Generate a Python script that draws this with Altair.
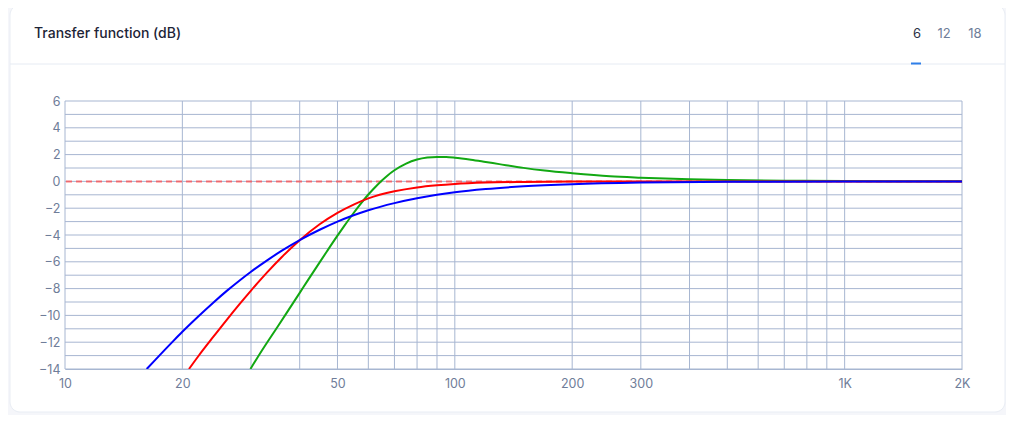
import altair as alt
import pandas as pd

# ---- data ----
blue_f = [16.2, 17, 18, 19, 20, 22, 24, 26, 28, 30, 33, 36, 40, 45, 50, 55, 60, 70, 80, 90, 100, 120, 150, 200, 300, 500, 1000, 2000]
blue_db = [-14.0, -13.36, -12.59, -11.88, -11.22, -10.06, -9.05, -8.17, -7.41, -6.74, -5.89, -5.17, -4.38, -3.61, -3.0, -2.53, -2.15, -1.62, -1.26, -1.0, -0.81, -0.57, -0.37, -0.21, -0.09, -0.035, -0.01, 0.0]

red_f = [20.8, 22, 24, 26, 28, 30, 33, 36, 40, 45, 50, 55, 60, 70, 80, 90, 100, 120, 150, 200, 300, 500, 1000, 2000]
red_db = [-14.0, -13.03, -11.61, -10.33, -9.18, -8.15, -6.79, -5.64, -4.39, -3.2, -2.35, -1.73, -1.27, -0.74, -0.45, -0.29, -0.19, -0.09, -0.04, -0.012, 0.0, 0.0, 0.0, 0.0]

green_f = [29.9, 32, 35, 37, 40, 42, 45, 47, 50, 52, 55, 57, 60, 62, 65, 67, 70, 75, 80, 85, 90, 95, 100, 110, 120, 130, 150, 170, 200, 250, 300, 400, 500, 700, 1000, 2000]
green_db = [-14.0, -12.62, -10.9, -9.83, -8.32, -7.37, -6.04, -5.21, -4.05, -3.34, -2.36, -1.77, -0.98, -0.53, 0.07, 0.41, 0.83, 1.33, 1.63, 1.78, 1.83, 1.82, 1.77, 1.62, 1.45, 1.29, 1.01, 0.81, 0.61, 0.385, 0.28, 0.156, 0.1, 0.05, 0.025, 0.006]

x_grid = [10, 20, 30, 40, 50, 60, 70, 80, 90, 100, 200, 300, 400, 500, 600, 700, 800, 900, 1000, 2000]
x_labels = [10, 20, 50, 100, 200, 300, 1000, 2000]
y_grid = list(range(-14, 7))
y_labels = list(range(-14, 7, 2))
tabs = ["6", "12", "18"]

GRID = "#a7b6d1"
LABEL = "#6f7d99"
FONT = "Inter"

xs = alt.Scale(type="log", domain=[10, 2000], nice=False)
ys = alt.Scale(domain=[-14, 6], nice=False)

label_expr = "datum.value == 1000 ? '1K' : datum.value == 2000 ? '2K' : '' + datum.value"

x_axis = alt.Axis(values=x_labels, labelExpr=label_expr, grid=False, ticks=False, title=None,
                  domain=True, domainColor=GRID, labelColor=LABEL, labelFont=FONT,
                  labelFontSize=12.5, labelPadding=8, labelFlush=False,
                  labelOverlap=False, zindex=1)
y_axis = alt.Axis(values=y_labels, grid=False, ticks=False, domain=False, title=None,
                  labelColor=LABEL, labelFont=FONT, labelFontSize=12.5,
                  labelPadding=5, labelOverlap=False, labelFlush=False, zindex=1)

curves = pd.concat([
    pd.DataFrame({"f": green_f, "db": green_db, "s": "a"}),
    pd.DataFrame({"f": red_f, "db": red_db, "s": "b"}),
    pd.DataFrame({"f": blue_f, "db": blue_db, "s": "c"}),
])

one = pd.DataFrame({"a": [0]})

card = alt.Chart(one).mark_rect(
    fill="white", stroke="#e9edf4", strokeWidth=1, cornerRadius=10
).encode(x=alt.value(-55), x2=alt.value(940), y=alt.value(-96), y2=alt.value(311))

divider = alt.Chart(one).mark_rule(color="#e6ebf3", strokeWidth=1).encode(
    x=alt.value(-55), x2=alt.value(940), y=alt.value(-37)
)

title = alt.Chart(one).mark_text(
    align="left", baseline="middle", font=FONT, fontSize=14, fontWeight=500, color="#1d2436"
).encode(x=alt.value(-31), y=alt.value(-67), text=alt.value("Transfer function (dB)"))

tab_layers = []
for t, px, col in zip(tabs, [852, 879, 910], ["#2b3247", LABEL, LABEL]):
    tab_layers.append(
        alt.Chart(one).mark_text(
            align="center", baseline="middle", font=FONT, fontSize=13, color=col
        ).encode(x=alt.value(px), y=alt.value(-67), text=alt.value(t))
    )

underline = alt.Chart(one).mark_rule(color="#2f7fe8", strokeWidth=2).encode(
    x=alt.value(846), x2=alt.value(856), y=alt.value(-37.5)
)

vgrid = alt.Chart(pd.DataFrame({"f": x_grid})).mark_rule(color=GRID, strokeWidth=1).encode(
    x=alt.X("f:Q", scale=xs, axis=x_axis)
)
hgrid = alt.Chart(pd.DataFrame({"db": y_grid})).mark_rule(color=GRID, strokeWidth=1).encode(
    y=alt.Y("db:Q", scale=ys, axis=y_axis)
)

zero = alt.Chart(pd.DataFrame({"db": [0]})).mark_rule(
    color="#ff4d4d", strokeWidth=2, strokeDash=[6, 4], opacity=0.75
).encode(y=alt.Y("db:Q", scale=ys, axis=y_axis))

lines = alt.Chart(curves).mark_line(strokeWidth=2, interpolate="monotone").encode(
    x=alt.X("f:Q", scale=xs, axis=x_axis),
    y=alt.Y("db:Q", scale=ys, axis=y_axis),
    color=alt.Color("s:N", scale=alt.Scale(domain=["a", "b", "c"],
                                           range=["#12a812", "#ff0000", "#0000ff"]), legend=None),
    order=alt.Order("f:Q"),
)

chart = alt.layer(
    card, divider, title, *tab_layers, underline, vgrid, hgrid, zero, lines
).properties(
    width=897, height=268,
    autosize=alt.AutoSizeParams(type="none"),
    padding={"left": 57, "top": 93, "right": 44, "bottom": 46},
    background="#f5f6fa",
).configure_view(stroke=None)

chart.save("out.html", embed_options={"renderer": "svg", "actions": False})
